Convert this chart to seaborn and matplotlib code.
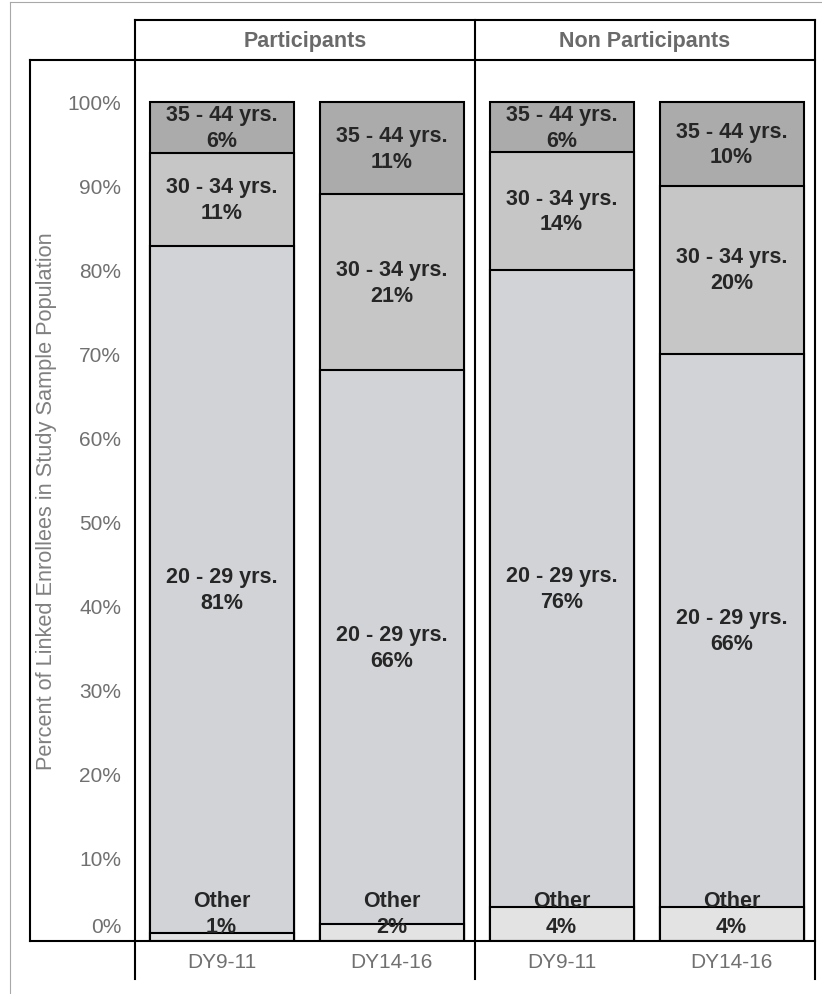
import numpy as np
import pandas as pd
import seaborn as sns
import matplotlib.pyplot as plt
from matplotlib.lines import Line2D

# data (percent of each bar)
panels = ["Participants", "Non Participants"]
periods = ["DY9-11", "DY14-16"]
segments = ["Other", "20 - 29 yrs.", "30 - 34 yrs.", "35 - 44 yrs."]
other = [[1, 2], [4, 4]]
age_20_29 = [[81, 66], [76, 66]]
age_30_34 = [[11, 21], [14, 20]]
age_35_44 = [[6, 11], [6, 10]]
seg_colors = ["#e3e3e3", "#d1d3d6", "#c6c6c6", "#ababab"]
y_ticks = list(range(0, 101, 10))

rows = []
for p, panel in enumerate(panels):
    for k, period in enumerate(periods):
        vals = [other[p][k], age_20_29[p][k], age_30_34[p][k], age_35_44[p][k]]
        total = sum(vals)
        cum = 0
        for seg, v in zip(segments, vals):
            rows.append(dict(panel=panel, period=period, segment=seg, value=v,
                             base=cum / total * 100, top=(cum + v) / total * 100))
            cum += v
df = pd.DataFrame(rows)

sns.set_style("white")
plt.rcParams['font.family'] = ['Liberation Sans', 'DejaVu Sans']

W, H = 822, 995
fig = plt.figure(figsize=(W / 100, H / 100), dpi=100)


def fline(x0, y0, x1, y1, color="black", lw=1.5):
    fig.add_artist(Line2D([x0 / W, x1 / W], [1 - y0 / H, 1 - y1 / H],
                          transform=fig.transFigure, color=color, lw=lw,
                          solid_capstyle="projecting"))


seg_font = dict(fontsize=15.5, fontweight="bold", color="#262626", linespacing=1.3)

axes = []
for i, left in enumerate([135, 475]):
    ax = fig.add_axes([left / W, 1 - 942 / H, 340 / W, (942 - 61) / H])
    sub = df[df.panel == panels[i]]
    # draw cumulative bars from the top segment down so they stack
    for seg, col in reversed(list(zip(segments, seg_colors))):
        s = sub[sub.segment == seg]
        sns.barplot(data=s, x="period", y="top", order=periods, color=col,
                    saturation=1, width=0.847, edgecolor="black", linewidth=1.5,
                    ax=ax, errorbar=None)
    for _, r in sub.iterrows():
        x = periods.index(r.period)
        label = f"{r.segment}\n{r.value}%"
        if r.segment == "Other":
            ax.annotate(label, xy=(x, 0), xytext=(0, 4), textcoords="offset pixels",
                        ha="center", va="bottom", **seg_font)
        else:
            ax.text(x, (r.base + r.top) / 2, label, ha="center", va="center",
                    **seg_font)
    ax.set_xlim(-0.509, 1.491)
    ax.set_ylim(0, 105.0)
    ax.set_xlabel("")
    ax.set_ylabel("")
    for sp in ax.spines.values():
        sp.set_visible(False)
    ax.tick_params(axis="x", length=0, pad=8, labelsize=15, labelcolor="#707070")
    ax.text(0.5, 1 + 20 / 881, panels[i], transform=ax.transAxes, ha="center",
            va="center", fontsize=15.5, fontweight="bold", color="#6a6a6a")
    axes.append(ax)

ax1, ax2 = axes
ax1.set_yticks(y_ticks)
ax1.set_yticklabels([""] + [f"{t}%" for t in y_ticks[1:]])
ax1.tick_params(axis="y", length=0, pad=10, labelsize=15, labelcolor="#707070")
ax1.annotate("0%", xy=(0, 0), xycoords=("axes fraction", "data"), xytext=(-14, 14),
             textcoords="offset pixels", ha="right", va="center", fontsize=15,
             color="#707070")
fig.text(47 / W, 1 - 501 / H, "Percent of Linked Enrollees in Study Sample Population",
         rotation=90, ha="center", va="center", fontsize=15.7, color="#808080")
ax2.set_yticks([])

# table-style frame
fline(10, 3, 822, 3, color="#a8a8a8", lw=0.8)
fline(10, 3, 10, 995, color="#a8a8a8", lw=0.8)
fline(135, 21, 815, 21)
fline(30, 61, 815, 61)
fline(30, 61, 30, 942)
fline(30, 942, 815, 942)
for xv in [135, 475, 815]:
    fline(xv, 21, xv, 980)

plt.savefig("out.png", dpi=100)
